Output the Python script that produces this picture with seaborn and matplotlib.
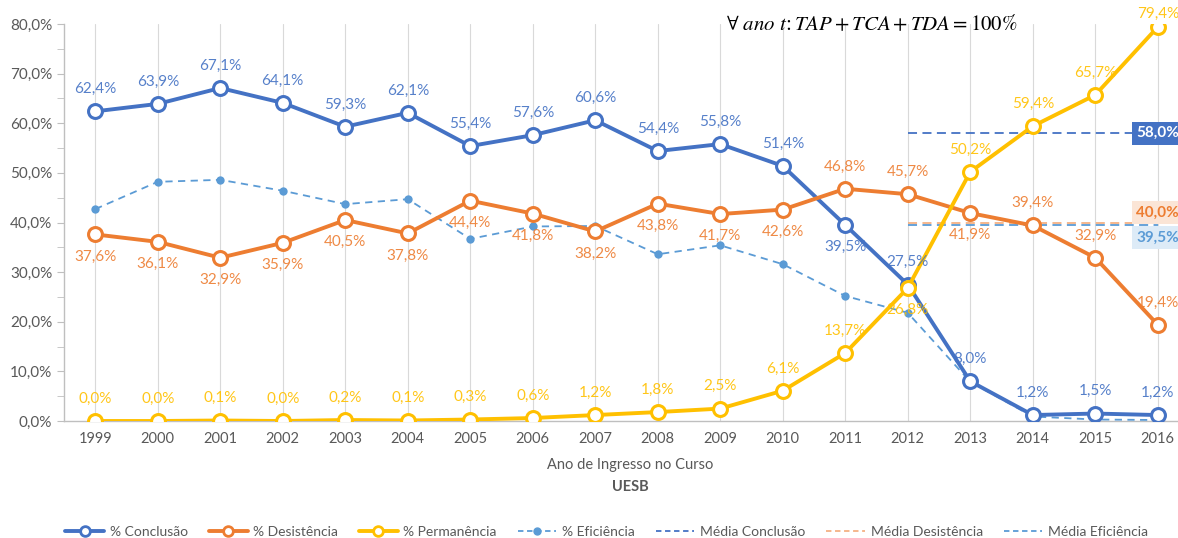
"""
Taxas de conclusão, desistência, permanência e eficiência - UESB
"""

import numpy as np
import pandas as pd
import matplotlib
matplotlib.use('Agg')
import matplotlib.pyplot as plt
from matplotlib.lines import Line2D
from matplotlib.ticker import FuncFormatter, MultipleLocator
import seaborn as sns

# Dados
anos = list(range(1999, 2017))
conclusao = [62.4, 63.9, 67.1, 64.1, 59.3, 62.1, 55.4, 57.6, 60.6, 54.4, 55.8, 51.4,
             39.5, 27.5, 8.0, 1.2, 1.5, 1.2]
desistencia = [37.6, 36.1, 32.9, 35.9, 40.5, 37.8, 44.4, 41.8, 38.2, 43.8, 41.7, 42.6,
               46.8, 45.7, 41.9, 39.4, 32.9, 19.4]
permanencia = [0.0, 0.0, 0.1, 0.0, 0.2, 0.1, 0.3, 0.6, 1.2, 1.8, 2.5, 6.1,
               13.7, 26.8, 50.2, 59.4, 65.7, 79.4]
eficiencia = [42.7, 48.2, 48.6, 46.4, 43.7, 44.7, 36.7, 39.2, 39.3, 33.6, 35.4, 31.6,
              25.2, 21.8, 7.9, 0.9, 0.3, 0.2]

# Médias (linhas tracejadas a partir de 2012)
media_inicio = 2012
media_fim = 2016
media_conclusao = 58.0
media_desistencia = 40.0
media_eficiencia = 39.5

# Posição dos rótulos: 1 = acima, -1 = abaixo
pos_conclusao = [1] * 12 + [-1] + [1] * 5
pos_desistencia = [-1] * 11 + [-1, 1, 1, -1, 1, 1, 1]
pos_permanencia = [1] * 13 + [-1] + [1] * 3 + [0.6]

AZUL = '#4472C4'
LARANJA = '#ED7D31'
AMARELO = '#FFC000'
AZUL_CLARO = '#5B9BD5'
LARANJA_CLARO = '#F4B183'
CINZA = '#595959'

sns.set_style('white')
plt.rcParams['font.family'] = ['Lato', 'DejaVu Sans']
plt.rcParams['mathtext.fontset'] = 'stix'

df = pd.DataFrame({'ano': anos, 'conclusao': conclusao, 'desistencia': desistencia,
                   'permanencia': permanencia, 'eficiencia': eficiencia})

fig = plt.figure(figsize=(11.78, 5.38), dpi=100)
ax = fig.add_axes([64 / 1178, 117 / 538, 1125 / 1178, 397 / 538])

# Grade vertical
for a in anos:
    ax.axvline(a, color='#D9D9D9', lw=0.8, zorder=0)

# Eficiência (tracejada)
sns.lineplot(data=df, x='ano', y='eficiencia', ax=ax, color=AZUL_CLARO, lw=1.3,
             linestyle=(0, (4, 3)), marker='o', markersize=6, markeredgewidth=0,
             markerfacecolor=AZUL_CLARO, zorder=3)

# Médias
ax.plot([media_inicio, media_fim], [media_conclusao] * 2, color=AZUL, lw=1.3,
        linestyle=(0, (5, 3)), zorder=2)
ax.plot([media_inicio, media_fim], [media_desistencia] * 2, color=LARANJA_CLARO, lw=1.3,
        linestyle=(0, (5, 3)), zorder=2)
ax.plot([media_inicio, media_fim], [media_eficiencia] * 2, color=AZUL_CLARO, lw=1.3,
        linestyle=(0, (5, 3)), zorder=2)

# Séries principais
series = [
    ('conclusao', AZUL, pos_conclusao),
    ('desistencia', LARANJA, pos_desistencia),
    ('permanencia', AMARELO, pos_permanencia),
]
for col, cor, posicoes in series:
    sns.lineplot(data=df, x='ano', y=col, ax=ax, color=cor, lw=2.8, marker='o',
                 markersize=10, markerfacecolor='white', markeredgecolor=cor,
                 markeredgewidth=2.2, zorder=4)
    for a, v, p in zip(anos, df[col], posicoes):
        ax.annotate(f'{v:.1f}%'.replace('.', ','), (a, v), xytext=(0, 16 * p),
                    textcoords='offset points', ha='center', va='center',
                    fontsize=11, color=cor, alpha=0.9, zorder=6, annotation_clip=False)

# Rótulos das médias
def rotulo_media(valor, dy, cor_texto, cor_fundo):
    ax.annotate(f'{valor:.1f}%'.replace('.', ','), (media_fim, valor), xytext=(0, dy),
                textcoords='offset points', ha='center', va='center', fontsize=11,
                fontweight='bold', color=cor_texto, zorder=7, annotation_clip=False,
                bbox=dict(boxstyle='square,pad=0.3', facecolor=cor_fundo, edgecolor='none'))

rotulo_media(media_conclusao, 0, 'white', AZUL)
rotulo_media(media_desistencia, 7, LARANJA, '#FBE5D6')
rotulo_media(media_eficiencia, -9, AZUL_CLARO, '#DDEBF7')

# Eixos
ax.set_xlim(1998.5, 2016.5)
ax.set_ylim(0, 80)
ax.set_xticks(anos)
ax.yaxis.set_major_locator(MultipleLocator(10))
ax.yaxis.set_minor_locator(MultipleLocator(5))
ax.yaxis.set_major_formatter(FuncFormatter(lambda v, _: f'{v:.1f}%'.replace('.', ',')))
ax.tick_params(axis='y', which='both', direction='out', length=5, color='#BFBFBF',
               labelsize=11, labelcolor=CINZA, left=True)
ax.tick_params(axis='x', length=0, labelsize=10.5, labelcolor=CINZA, pad=8)
for s in ['top', 'right']:
    ax.spines[s].set_visible(False)
for s in ['left', 'bottom']:
    ax.spines[s].set_color('#BFBFBF')
    ax.spines[s].set_linewidth(1)
ax.set_xlabel('')
ax.set_ylabel('')

fig.text(0.535, 1 - 465 / 538, 'Ano de Ingresso no Curso', ha='center', va='center',
         fontsize=10.5, color=CINZA)
fig.text(0.535, 1 - 487 / 538, 'UESB', ha='center', va='center', fontsize=10.5,
         fontweight='bold', color=CINZA)

# Fórmula
fig.text(0.74, 1 - 24 / 538, r'$\forall\ ano\ t\!:TAP+TCA+TDA=100\%$', ha='center',
         va='center', fontsize=15, color='black')

# Legenda
handles = [
    Line2D([], [], color=AZUL, lw=2.8, marker='o', markersize=7, markerfacecolor='white',
           markeredgewidth=2),
    Line2D([], [], color=LARANJA, lw=2.8, marker='o', markersize=7, markerfacecolor='white',
           markeredgewidth=2),
    Line2D([], [], color=AMARELO, lw=2.8, marker='o', markersize=7, markerfacecolor='white',
           markeredgewidth=2),
    Line2D([], [], color=AZUL_CLARO, lw=1.3, linestyle=(0, (3, 2)), marker='o', markersize=5),
    Line2D([], [], color=AZUL, lw=1.3, linestyle=(0, (3, 2))),
    Line2D([], [], color=LARANJA_CLARO, lw=1.3, linestyle=(0, (3, 2))),
    Line2D([], [], color=AZUL_CLARO, lw=1.3, linestyle=(0, (3, 2))),
]
nomes = ['% Conclusão', '% Desistência', '% Permanência', '% Eficiência',
         'Média Conclusão', 'Média Desistência', 'Média Eficiência']
leg = fig.legend(handles, nomes, loc='center', bbox_to_anchor=(0.515, 1 - 532 / 538),
                 ncol=7, frameon=False, fontsize=10, handlelength=2.8,
                 columnspacing=1.5, handletextpad=0.4)
for t in leg.get_texts():
    t.set_color(CINZA)

fig.savefig('out.png', dpi=100)
